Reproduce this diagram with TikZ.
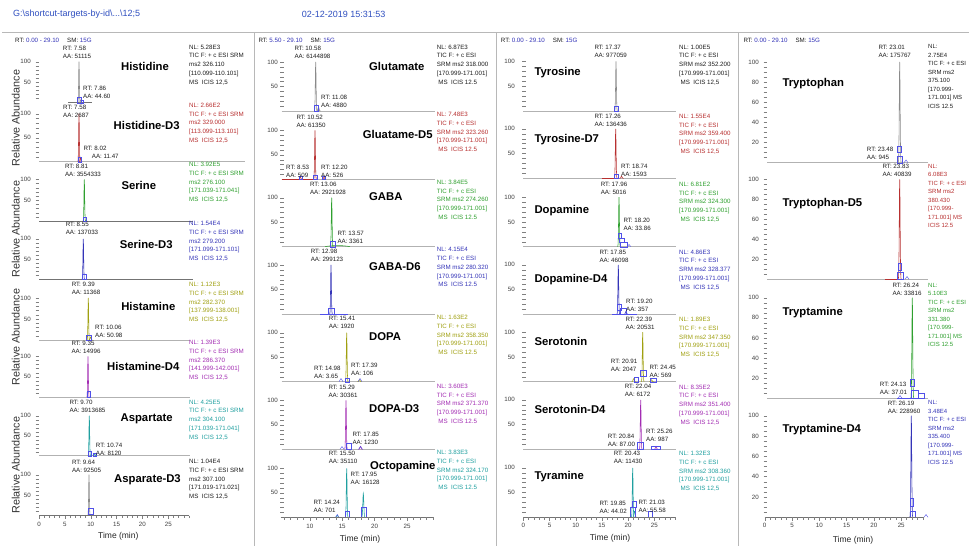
\documentclass[tikz,border=0pt]{standalone}
\usepackage{fontspec}
\setmainfont{Liberation Sans}
\definecolor{cblk}{HTML}{1E1E1E}
\definecolor{cgry}{HTML}{8A8A8A}
\definecolor{cred}{HTML}{B83030}
\definecolor{cgrn}{HTML}{2FA02F}
\definecolor{cblu}{HTML}{3434B8}
\definecolor{colv}{HTML}{A0A010}
\definecolor{cpur}{HTML}{A32DB3}
\definecolor{ctea}{HTML}{20A0A0}
\definecolor{mkb}{HTML}{5050E8}
\definecolor{hdr}{HTML}{2F4FC0}
\tikzset{
  sm/.style={font=\fontsize{6.2}{8}\selectfont, inner sep=0pt, text=cblk},
  info/.style={font=\fontsize{6.2}{8.75}\selectfont, inner sep=0pt, align=left, anchor=north west},
  infoq/.style={font=\fontsize{6}{8.5}\selectfont, inner sep=0pt, align=left, anchor=north west},
  ttl/.style={font=\fontsize{11.3}{13}\selectfont\bfseries, inner sep=0pt, text=black},
  trace/.style={line width=0.55pt},
  mk/.style={draw=mkb, line width=0.4pt},
  bline/.style={draw=black!30, line width=0.6pt},
  axl/.style={draw=black!55, line width=0.6pt},
  tk/.style={draw=black!50, line width=0.4pt},
  sepl/.style={draw=black!28, line width=0.9pt},
  ylab/.style={font=\fontsize{10.8}{12}\selectfont, inner sep=0pt, text=black!80, rotate=90},
  tlab/.style={font=\fontsize{8.5}{10}\selectfont, inner sep=0pt, text=black!85},
}
% peak: x, baseline, height, sigma, colour
\newcommand\pk[5]{\draw[#5,trace] plot[domain=-2.6:2.6,samples=27,smooth] ({#1+#4*\x},{#2-(#3)*exp(-(\x)*(\x))});}
% peak labels: centred block / left block ; x, y of RT line centre, RT, AA
\newcommand\rtc[4]{\node[sm,align=left,anchor=north] at (#1,#2-2.2) {RT: #3\\AA: #4};}
\newcommand\rtw[4]{\node[sm,align=left,anchor=north west] at (#1,#2-2.2) {RT: #3\\AA: #4};}
% info block: style, x, y of first line centre, colour, text
\newcommand\infobox[5]{\node[#1,text=#4] at (#2,#3-2.2) {#5};}
% y axis: tick x, baseline, height of 100, label x, label list, tick list
\newcommand\yax[6]{%
  \foreach \yv in {#6} \draw[tk] (#1-3.5,{#2-\yv*#3/100}) -- (#1,{#2-\yv*#3/100});
  \foreach \yv in {#5} \node[sm,text=black!75,anchor=east] at (#4,{#2-\yv*#3/100}) {\yv};}
% x axis: t0, px/min, tstart, tend, baseline, tick list, label list, label y
\newcommand\xax[8]{%
  \draw[axl] ({#1+#2*#3},#5) -- ({#1+#2*#4},#5);
  \foreach \tm in {#6} \draw[tk] ({#1+#2*\tm},#5) -- ({#1+#2*\tm},#5+2.5);
  \foreach \tm in {#7} {\draw[tk] ({#1+#2*\tm},#5) -- ({#1+#2*\tm},#5+3.5);
    \node[sm,text=black!75] at ({#1+#2*\tm},#8) {\tm};}}
\begin{document}
\begin{tikzpicture}[x=1pt,y=-1pt]
\useasboundingbox (0,0) rectangle (969,546);
\fill[white] (0,0) rectangle (969,546);

% ---------- header ----------
\node[anchor=west,inner sep=0pt,font=\fontsize{9}{11}\selectfont,text=hdr] (path) at (13,14) {G:\textbackslash shortcut-targets-by-id\textbackslash ...\textbackslash 12;5};
\node[anchor=west,inner sep=0pt,font=\fontsize{9}{11}\selectfont,text=hdr] (date) at (301.7,14) {02-12-2019 15:31:53};
\draw[sepl] (2,32) -- (969,32);
\foreach \xs in {254,496.5,738} \draw[sepl] (\xs,32) -- (\xs,546);

\node[sm,anchor=west] (h1) at (15,40.5) {RT:\ \textcolor{cblu}{0.00 - 29.10}\hspace{8pt}SM:\ \textcolor{cblu}{15G}};
\node[sm,anchor=west] (h2) at (258.3,40.5) {RT:\ \textcolor{cblu}{5.50 - 29.10}\hspace{8pt}SM:\ \textcolor{cblu}{15G}};
\node[sm,anchor=west] (h3) at (500.7,40.5) {RT:\ \textcolor{cblu}{0.00 - 29.10}\hspace{8pt}SM:\ \textcolor{cblu}{15G}};
\node[sm,anchor=west] (h4) at (743.3,40.5) {RT:\ \textcolor{cblu}{0.00 - 29.10}\hspace{8pt}SM:\ \textcolor{cblu}{15G}};

\node[ylab] (ra1) at (15.7,118) {Relative Abundance};
\node[ylab] (ra2) at (15.7,229) {Relative Abundance};
\node[ylab] (ra3) at (15.7,337) {Relative Abundance};
\node[ylab] (ra4) at (15.7,465) {Relative Abundance};

% ================= PANEL 1 =================
% Histidine
\draw[axl] (68,102.7) -- (92,102.7);
\yax{39}{102.7}{41}{31}{50,100}{10,20,...,100}
\pk{79}{102.7}{41}{0.5}{cgry}
\pk{80.8}{102.7}{3}{0.6}{cgry}
\draw[mk] (77.5,97.5) rectangle (81,102.7);
\draw[mk] (81,100) rectangle (83.5,102.7);
\rtc{77}{47.7}{7.58}{51115}
\rtw{83}{87.7}{7.86}{44.60}
\node[ttl] (n11) at (145,66) {Histidine};
\infobox{info}{189}{46.7}{cblk}{NL: 5.28E3\\TIC F: + c ESI SRM\\ms2 326.110\\{[}110.099-110.101{]}\\MS\ \ ICIS 12,5}

% Histidine-D3
\draw[bline] (39,161.7) -- (245,161.7);
\yax{39}{161.7}{48}{31}{50,100}{10,20,...,100}
\pk{79}{161.7}{48}{0.5}{cred}
\pk{80.6}{161.7}{4}{0.6}{cred}
\draw[mk] (78,157) rectangle (81.5,161.7);
\rtc{76}{106.7}{7.58}{2687}
\node[sm,anchor=west] at (83.3,148.3) {RT: 8.02};
\node[sm,anchor=west] at (91.7,156.7) {AA: 11.47};
\node[ttl] (n12) at (146.7,125) {Histidine-D3};
\infobox{info}{189}{105}{cred}{NL: 2.66E2\\TIC F: + c ESI SRM\\ms2 329.000\\{[}113.099-113.101{]}\\MS\ \ ICIS 12,5}

% Serine
\draw[axl] (39,221) -- (193,221);
\yax{39}{221}{41.5}{31}{50,100}{10,20,...,100}
\pk{84.3}{221}{41.5}{0.5}{cgrn}
\draw[mk] (83,217) rectangle (86,221);
\rtc{83}{166}{8.81}{3554333}
\node[ttl] (n13) at (138.8,185) {Serine};
\infobox{info}{189}{164.3}{cgrn}{NL: 3.92E5\\TIC F: + c ESI SRM\\ms2 276.100\\{[}171.039-171.041{]}\\MS\ \ ICIS 12,5}

% Serine-D3
\draw[axl] (39,279.3) -- (193,279.3);
\yax{39}{279.3}{40.5}{31}{50,100}{10,20,...,100}
\pk{83.3}{279.3}{40.5}{0.5}{cblu}
\draw[mk] (82,274.5) rectangle (86,279.3);
\rtc{82}{224.3}{8.55}{137033}
\node[ttl] (n14) at (146.3,244.3) {Serine-D3};
\infobox{info}{189}{223.3}{cblu}{NL: 1.54E4\\TIC F: + c ESI SRM\\ms2 279.200\\{[}171.099-171.101{]}\\MS\ \ ICIS 12,5}

% Histamine
\draw[bline] (39,340) -- (190,340);
\yax{39}{340}{42}{31}{50,100}{10,20,...,100}
\pk{88.3}{340}{42}{0.5}{colv}
\pk{90.5}{340}{3}{0.7}{colv}
\draw[mk] (86.5,335) rectangle (91,340);
\rtc{86}{284}{9.39}{11368}
\rtw{95}{326.7}{10.06}{50.98}
\node[ttl] (n15) at (148.3,306.7) {Histamine};
\infobox{info}{189}{284.3}{colv}{NL: 1.12E3\\TIC F: + c ESI SRM\\ms2 282.370\\{[}137.999-138.001{]}\\MS\ \ ICIS 12,5}

% Histamine-D4
\draw[bline] (39,397.3) -- (190,397.3);
\yax{39}{397.3}{41}{31}{50,100}{10,20,...,100}
\pk{88}{397.3}{41}{0.5}{cpur}
\draw[mk] (87,391) rectangle (90.5,397.3);
\rtc{86}{343.3}{9.35}{14996}
\node[ttl] (n16) at (143.3,366) {Histamine-D4};
\infobox{info}{189}{342.3}{cpur}{NL: 1.39E3\\TIC F: + c ESI SRM\\ms2 286.370\\{[}141.999-142.001{]}\\MS\ \ ICIS 12,5}

% Aspartate
\draw[bline] (39,455.7) -- (190,455.7);
\yax{39}{455.7}{40}{31}{50,100}{10,20,...,100}
\pk{89.3}{455.7}{40}{0.5}{ctea}
\pk{94.5}{455.7}{2}{0.7}{ctea}
\draw[mk] (88,451) rectangle (91,455.7);
\draw[mk] (93,453) rectangle (96,455.7);
\rtc{87.5}{402.3}{9.70}{3913685}
\rtw{95.7}{445}{10.74}{8120}
\node[ttl] (n17) at (146.7,419) {Aspartate};
\infobox{info}{189}{401.7}{ctea}{NL: 4.25E5\\TIC F: + c ESI SRM\\ms2 304.100\\{[}171.039-171.041{]}\\MS\ \ ICIS 12,5}

% Asparate-D3
\yax{39}{515.7}{41}{31}{50,100}{10,20,...,100}
\pk{89}{515.7}{41}{0.5}{cgry}
\draw[mk] (88,508) rectangle (93,514);
\rtc{86.5}{461.7}{9.64}{92505}
\node[ttl] (n18) at (147.5,480) {Asparate-D3};
\infobox{info}{189}{461.3}{cblk}{NL: 1.04E4\\TIC F: + c ESI SRM\\ms2 307.100\\{[}171.019-171.021{]}\\MS\ \ ICIS 12,5}
\xax{39}{5.17}{0}{29.1}{515.7}{0,...,29}{0,5,10,15,20,25}{524.3}
\node[tlab] (tx1) at (118.3,536.7) {Time (min)};

% ================= PANEL 2 =================
% Glutamate
\draw[bline] (281.7,111) -- (435,111);
\yax{283.5}{111}{49}{278}{50,100}{10,20,...,100}
\pk{315.7}{111}{49}{0.55}{cgry}
\pk{318.5}{111}{4}{0.8}{cgry}
\draw[mk] (314,105) rectangle (318.5,111);
\rtc{312.5}{48.3}{10.58}{6144898}
\rtw{321}{97.3}{11.08}{4880}
\node[ttl,anchor=west] (n21) at (369,66) {Glutamate};
\infobox{info}{436.7}{46.7}{cblk}{NL: 6.87E3\\TIC F: + c ESI\\SRM ms2 318.000\\{[}170.999-171.001{]}\\\hspace{1.5pt}MS\ \ ICIS 12.5}

% Gluatame-D5
\draw[bline] (281.7,179.3) -- (435,179.3);
\draw[cred,trace] (281.7,179.3) -- (315,179.3);
\yax{283.5}{179.3}{49}{278}{50,100}{10,20,...,100}
\pk{315}{179.3}{49}{0.55}{cred}
\pk{300.3}{179.3}{2}{0.8}{cred}
\pk{324}{179.3}{2}{0.8}{cred}
\draw[mk] (299,176.5) rectangle (302,179.3);
\draw[mk] (313.5,175) rectangle (317,179.3);
\draw[mk] (322.5,176.5) rectangle (325.5,179.3);
\rtc{311}{116.7}{10.52}{61350}
\rtw{286}{166.7}{8.53}{509}
\rtw{321}{166.7}{12.20}{526}
\node[ttl,anchor=west] (n22) at (362.7,134.3) {Gluatame-D5};
\infobox{info}{436.7}{114.3}{cred}{NL: 7.48E3\\TIC F: + c ESI\\SRM ms2 323.260\\{[}170.999-171.001{]}\\\hspace{1.5pt}MS\ \ ICIS 12.5}

% GABA
\draw[bline] (281.7,246.7) -- (435,246.7);
\draw[cgrn,trace] (325,246.7) .. controls (332,245.2) and (343,245.2) .. (350,246.7);
\yax{283.5}{246.7}{49}{278}{50,100}{10,20,...,100}
\pk{331.7}{246.7}{49}{0.55}{cgrn}
\draw[mk] (330,241) rectangle (335,246.7);
\rtc{328}{184.3}{13.06}{2921928}
\rtw{337.3}{232.7}{13.57}{3361}
\node[ttl,anchor=west] (n23) at (369,196.7) {GABA};
\infobox{info}{436.7}{182}{cgrn}{NL: 3.84E5\\TIC F: + c ESI\\SRM ms2 274.260\\{[}170.999-171.001{]}\\\hspace{1.5pt}MS\ \ ICIS 12.5}

% GABA-D6
\draw[bline] (281.7,314) -- (435,314);
\draw[mkb,trace] (320,314) -- (348,314);
\yax{283.5}{314}{49}{278}{50,100}{10,20,...,100}
\pk{331}{314}{49}{0.55}{cblu}
\draw[mk] (328,308.5) rectangle (334,314);
\rtc{327}{250.7}{12.98}{299123}
\node[ttl,anchor=west] (n24) at (369,266.7) {GABA-D6};
\infobox{info}{436.7}{249.5}{cblu}{NL: 4.15E4\\TIC F: + c ESI\\SRM ms2 280.320\\{[}170.999-171.001{]}\\\hspace{1.5pt}MS\ \ ICIS 12.5}

% DOPA
\draw[bline] (281.7,381.7) -- (435,381.7);
\yax{283.5}{381.7}{49}{278}{50,100}{10,20,...,100}
\pk{346.7}{381.7}{49}{0.55}{colv}
\pk{359.5}{381.7}{2}{0.8}{colv}
\draw[mk] (339,381.7) -- (341,378.5) -- (343,381.7);
\draw[mk] (345.5,378) rectangle (349,381.7);
\draw[mk] (358,381.7) -- (360,378.5) -- (362,381.7);
\rtc{342}{318.3}{15.41}{1920}
\rtw{314}{368.3}{14.98}{3.65}
\rtw{351}{365}{17.39}{106}
\node[ttl,anchor=west] (n25) at (369,336.7) {DOPA};
\infobox{info}{436.7}{317.3}{colv}{NL: 1.63E2\\TIC F: + c ESI\\SRM ms2 358.350\\{[}170.999-171.001{]}\\\hspace{1.5pt}MS\ \ ICIS 12.5}

% DOPA-D3
\draw[bline] (281.7,449.3) -- (435,449.3);
\yax{283.5}{449.3}{49}{278}{50,100}{10,20,...,100}
\pk{346}{449.3}{49}{0.55}{cpur}
\pk{360.5}{449.3}{3}{0.8}{cpur}
\draw[mk] (340,449.3) -- (342,446.5) -- (344,449.3);
\draw[mk] (346,443) rectangle (351,449.3);
\draw[mk] (358.5,449.3) -- (360.5,446.5) -- (362.5,449.3);
\rtc{343}{386.7}{15.29}{30361}
\rtw{352.3}{434.3}{17.85}{1230}
\node[ttl,anchor=west] (n26) at (369,408.3) {DOPA-D3};
\infobox{info}{436.7}{386}{cpur}{NL: 3.60E3\\TIC F: + c ESI\\SRM ms2 371.370\\{[}170.999-171.001{]}\\\hspace{1.5pt}MS\ \ ICIS 12.5}

% Octopamine
\yax{283.5}{517.3}{49}{278}{50,100}{10,20,...,100}
\pk{346.7}{517.3}{49}{0.55}{ctea}
\pk{363.3}{517.3}{24}{0.7}{ctea}
\pk{337.3}{517.3}{2}{0.8}{ctea}
\draw[mk] (345.5,511) rectangle (349,517.3);
\draw[mk] (361.5,507) rectangle (366,517.3);
\draw[mk] (335.5,517.3) -- (337.3,514.5) -- (339,517.3);
\rtc{343}{453.3}{15.50}{35110}
\rtw{350.5}{474.5}{17.95}{16128}
\rtw{313.3}{501.7}{14.24}{701}
\node[ttl,anchor=west] (n27) at (370,466.8) {Octopamine};
\infobox{info}{436.7}{452.3}{ctea}{NL: 3.83E3\\TIC F: + c ESI\\SRM ms2 324.170\\{[}170.999-171.001{]}\\\hspace{1.5pt}MS\ \ ICIS 12.5}
\xax{245}{6.48}{5.5}{29.1}{517.3}{6,...,29}{10,15,20,25}{526.5}
\node[tlab] (tx2) at (360,539) {Time (min)};

% ================= PANEL 3 =================
% Tyrosine
\draw[bline] (523.3,111) -- (676,111);
\yax{525.5}{111}{49.5}{515}{50,100}{10,20,...,100}
\pk{616}{111}{49.5}{0.55}{cgry}
\draw[mk] (614,106) rectangle (618.5,111);
\rtc{610.7}{46.7}{17.37}{977059}
\node[ttl,anchor=west] (n31) at (534.3,72.7) {Tyrosine};
\infobox{info}{679}{46.7}{cblk}{NL: 1.00E5\\TIC F: + c ESI\\SRM ms2 352.200\\{[}170.999-171.001{]}\\\hspace{1.5pt}MS\ \ ICIS 12,5}

% Tyrosine-D7
\draw[bline] (523.3,178.3) -- (676,178.3);
\draw[cred,trace] (601.7,178.3) -- (616.7,178.3);
\yax{525.5}{178.3}{49.5}{515}{50,100}{10,20,...,100}
\pk{615.7}{178.3}{49.5}{0.55}{cred}
\pk{621.5}{178.3}{2}{0.8}{cred}
\draw[mk] (614,174) rectangle (618,178.3);
\rtc{610.7}{116}{17.26}{136436}
\rtw{621}{166}{18.74}{1593}
\node[ttl,anchor=west] (n32) at (534.3,139.3) {Tyrosine-D7};
\infobox{info}{679}{116}{cred}{NL: 1.55E4\\TIC F: + c ESI\\SRM ms2 359.400\\{[}170.999-171.001{]}\\\hspace{1.5pt}MS\ \ ICIS 12,5}

% Dopamine
\draw[bline] (523.3,246.7) -- (676,246.7);
\yax{525.5}{246.7}{49.5}{515}{50,100}{10,20,...,100}
\pk{619}{246.7}{49.5}{0.55}{cgrn}
\draw[mk] (618,233) rectangle (621,238);
\draw[mk] (619,238) rectangle (624,242);
\draw[mk] (620,242) rectangle (627,246.7);
\draw[mk] (627,246.7) -- (629,244.5) -- (631,246.7);
\rtc{614}{184}{17.96}{5016}
\rtw{623.3}{220}{18.20}{33.86}
\node[ttl,anchor=west] (n33) at (534.3,210.7) {Dopamine};
\infobox{info}{679}{184}{cgrn}{NL: 6.81E2\\TIC F: + c ESI\\SRM ms2 324.300\\{[}170.999-171.001{]}\\\hspace{1.5pt}MS\ \ ICIS 12,5}

% Dopamine-D4
\draw[bline] (523.3,314.3) -- (676,314.3);
\yax{525.5}{314.3}{49.5}{515}{50,100}{10,20,...,100}
\pk{618.3}{314.3}{49.5}{0.55}{cblu}
\pk{626}{314.3}{3}{0.8}{cblu}
\draw[mk] (617,304) rectangle (621,310);
\draw[mk] (620,308) rectangle (626,314.3);
\draw[mkb,trace] (612,314.3) -- (637,314.3);
\rtc{614}{251.7}{17.85}{46098}
\rtw{626}{300.7}{19.20}{357}
\node[ttl,anchor=west] (n34) at (534.3,279.3) {Dopamine-D4};
\infobox{info}{679}{251.7}{cblu}{NL: 4.86E3\\TIC F: + c ESI\\SRM ms2 328.377\\{[}170.999-171.001{]}\\\hspace{1.5pt}MS\ \ ICIS 12,5}

% Serotonin
\draw[bline] (523.3,381.7) -- (676,381.7);
\yax{525.5}{381.7}{49.5}{515}{50,100}{10,20,...,100}
\pk{642.7}{381.7}{49.5}{0.55}{colv}
\pk{633.6}{381.7}{3}{0.8}{colv}
\pk{651.5}{381.7}{2}{0.8}{colv}
\draw[mk] (640,370) rectangle (646,376);
\draw[mk] (634,377) rectangle (638,381.7);
\draw[mk] (650,378) rectangle (656,381.7);
\rtc{640}{319}{22.39}{20531}
\rtw{610.7}{360.7}{20.91}{2047}
\rtw{649.3}{367.3}{24.45}{569}
\node[ttl,anchor=west] (n35) at (534.3,341) {Serotonin};
\infobox{info}{679}{319.3}{colv}{NL: 1.89E3\\TIC F: + c ESI\\SRM ms2 347.350\\{[}170.999-171.001{]}\\\hspace{1.5pt}MS\ \ ICIS 12,5}

% Serotonin-D4
\draw[bline] (523.3,449.3) -- (676,449.3);
\yax{525.5}{449.3}{49.5}{515}{50,100}{10,20,...,100}
\pk{640.7}{449.3}{49.5}{0.55}{cpur}
\pk{656}{449.3}{3}{0.8}{cpur}
\draw[mk] (637,442) rectangle (643,449.3);
\draw[mk] (651,446) rectangle (660,449.3);
\rtc{638}{386}{22.04}{6172}
\rtw{607.7}{436}{20.84}{87.00}
\rtw{646}{430.7}{25.26}{987}
\node[ttl,anchor=west] (n36) at (534.3,409.3) {Serotonin-D4};
\infobox{info}{679}{386.7}{cpur}{NL: 8.35E2\\TIC F: + c ESI\\SRM ms2 351.400\\{[}170.999-171.001{]}\\\hspace{1.5pt}MS\ \ ICIS 12,5}

% Tyramine
\yax{525.5}{517.3}{49.5}{515}{50,100}{10,20,...,100}
\pk{632.7}{517.3}{49.5}{0.55}{ctea}
\pk{634.5}{517.3}{6}{0.8}{ctea}
\draw[mk] (632,501) rectangle (636,507);
\draw[mk] (630,507) rectangle (635,517.3);
\draw[mk] (648,511) rectangle (652,517.3);
\rtc{628}{453.3}{20.43}{11430}
\rtw{599.3}{502.7}{19.85}{44.02}
\rtw{638.3}{501.7}{21.03}{55.58}
\node[ttl,anchor=west] (n37) at (534.3,476.7) {Tyramine};
\infobox{info}{679}{453.3}{ctea}{NL: 1.32E3\\TIC F: + c ESI\\SRM ms2 308.360\\{[}170.999-171.001{]}\\\hspace{1.5pt}MS\ \ ICIS 12,5}
\xax{523.3}{5.24}{0}{29.1}{517.3}{0,...,29}{0,5,10,15,20,25}{525.5}
\node[tlab] (tx3) at (610,538) {Time (min)};

% ================= PANEL 4 =================
% Tryptophan
\draw[bline] (767,162.7) -- (928,162.7);
\yax{767}{162.7}{100.7}{759}{20,40,60,80,100}{5,10,...,100}
\pk{899.7}{162.7}{100.7}{0.6}{cgry}
\draw[mk] (897.5,146) rectangle (901.5,152);
\draw[mk] (897,156) rectangle (902,162.7);
\draw[mk] (904,162.7) -- (906,160) -- (908,162.7);
\rtc{894.7}{46.7}{23.01}{175767}
\rtw{866.7}{149.3}{23.48}{945}
\node[ttl,anchor=west] (n41) at (782.3,84) {Tryptophan};
\infobox{infoq}{928}{46.7}{cblk}{NL:\\2.75E4\\TIC F: + c ESI\\SRM ms2\\375.100\\{[}170.999-\\171.001{]} MS\\ICIS 12.5}

% Tryptophan-D5
\draw[bline] (767,279.3) -- (928,279.3);
\draw[cred,trace] (884.7,279.3) -- (901.3,279.3);
\yax{767}{279.3}{100}{759}{20,40,60,80,100}{5,10,...,100}
\pk{899.7}{279.3}{100}{0.6}{cred}
\draw[mk] (898,263) rectangle (901.5,270);
\draw[mk] (897,272) rectangle (903,279.3);
\draw[mk] (905,279.3) -- (907,276.5) -- (909,279.3);
\rtc{897}{166}{23.83}{40839}
\node[ttl,anchor=west] (n42) at (782.3,203.3) {Tryptophan-D5};
\infobox{infoq}{928}{166}{cred}{NL:\\6.08E3\\TIC F: + c ESI\\SRM ms2\\380.430\\{[}170.999-\\171.001{]} MS\\ICIS 12.5}

% Tryptamine
\draw[bline] (767,398.3) -- (928,398.3);
\yax{767}{398.3}{100.6}{759}{20,40,60,80,100}{5,10,...,100}
\pk{912.3}{398.3}{100.6}{0.6}{cgrn}
\draw[mkb,trace] (897,398.3) -- (925,398.3);
\draw[mk] (898,398.3) -- (900,395.5) -- (902,398.3);
\draw[mk] (910.5,379) rectangle (914,386);
\draw[mk] (911,390) rectangle (918,398.3);
\draw[mk] (918,393) rectangle (924,398.3);
\rtc{907}{285}{26.24}{33816}
\rtw{879.7}{384.3}{24.13}{37.01}
\node[ttl,anchor=west] (n43) at (782.3,312.3) {Tryptamine};
\infobox{infoq}{928}{285}{cgrn}{NL:\\5.10E3\\TIC F: + c ESI\\SRM ms2\\331.380\\{[}170.999-\\171.001{]} MS\\ICIS 12.5}

% Tryptamine-D4
\yax{767}{517.3}{101.6}{759}{20,40,60,80,100}{5,10,...,100}
\pk{911.3}{517.3}{101.6}{0.6}{cblu}
\draw[mk] (910,498) rectangle (913.5,506);
\draw[mk] (910,511) rectangle (915,517.3);
\draw[mk] (924,517.3) -- (926,514.5) -- (928,517.3);
\rtc{904}{402.7}{26.19}{228960}
\node[ttl,anchor=west] (n44) at (782.3,430) {Tryptamine-D4};
\infobox{infoq}{928}{402.7}{cblu}{NL:\\3.48E4\\TIC F: + c ESI\\SRM ms2\\335.400\\{[}170.999-\\171.001{]} MS\\ICIS 12.5}
\xax{764.7}{5.46}{0}{29.1}{517.3}{0,...,29}{0,5,10,15,20,25}{525.5}
\node[tlab] (tx4) at (853,540) {Time (min)};
\end{tikzpicture}
\end{document}
